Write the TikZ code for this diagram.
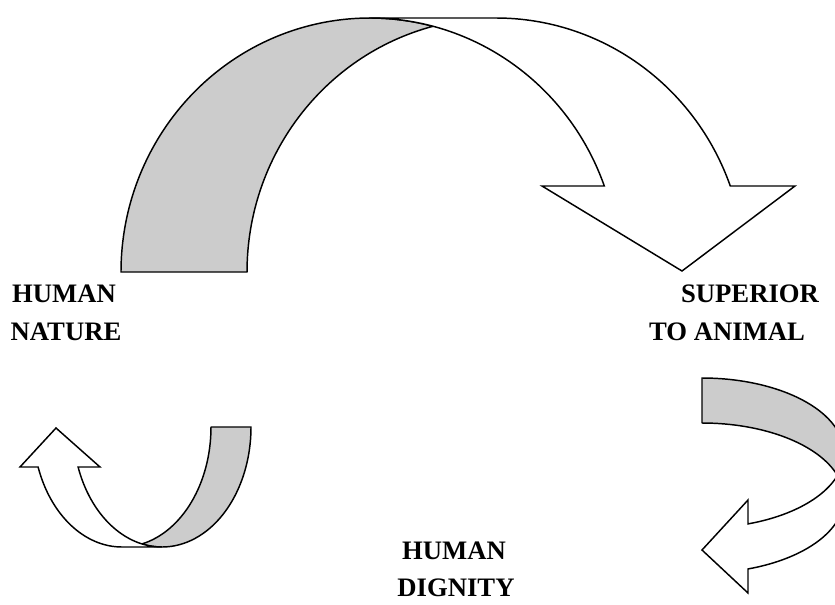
\documentclass[tikz,border=0pt]{standalone}
\usepackage{fontspec}
\setmainfont{Liberation Serif}
\begin{document}
\begin{tikzpicture}[x=0.75pt,y=0.75pt,
  back/.style={draw=black,line width=1.1pt,fill=black!20,line join=round},
  front/.style={draw=black,line width=1.1pt,fill=white,line join=miter},
  lbl/.style={font=\fontsize{20}{22}\selectfont\bfseries,inner sep=0pt,anchor=center}]
\useasboundingbox (0,0) rectangle (835,-604);
\begin{scope}
\clip (0,0) rectangle (835,-604);
% ---- top curved-down arrow (ellipses A centre (370,-272), B centre (496,-272))
\draw[back] (121,-272) arc[start angle=180,end angle=75.34,x radius=249,y radius=254]
  arc[start angle=104.66,end angle=180,x radius=249,y radius=254] -- cycle;
\draw[front] (370,-18) -- (496,-18)
  arc[start angle=90,end angle=19.79,x radius=249,y radius=254]
  -- (795,-186) -- (682,-271) -- (542,-186) -- (604.3,-186)
  arc[start angle=19.79,end angle=90,x radius=249,y radius=254] -- cycle;
% ---- bottom-right curved arrow (ellipses C centre (702,-453), D centre (702,-498))
\draw[back] (702,-378) arc[start angle=90,end angle=-17.46,x radius=142,y radius=75]
  arc[start angle=17.46,end angle=90,x radius=142,y radius=75] -- cycle;
\draw[front] (844,-453) -- (844,-498)
  arc[start angle=0,end angle=-71.1,x radius=142,y radius=75]
  -- (748,-593) -- (702,-550) -- (748,-500) -- (748,-523.9)
  arc[start angle=-71.1,end angle=0,x radius=142,y radius=75] -- cycle;
% ---- bottom-left curved-up arrow (ellipses E centre (122,-427), F centre (162,-427))
\draw[back] (251,-427) arc[start angle=0,end angle=-102.99,x radius=89,y radius=120]
  arc[start angle=-77.01,end angle=0,x radius=89,y radius=120] -- cycle;
\draw[front] (122,-547) arc[start angle=-90,end angle=-160.53,x radius=89,y radius=120]
  -- (20,-467) -- (56,-428) -- (100,-467) -- (78.1,-467)
  arc[start angle=-160.53,end angle=-90,x radius=89,y radius=120] -- cycle;
\end{scope}
% ---- labels
\node[lbl] (hn1) at (64,-294) {HUMAN};
\node[lbl] (hn2) at (66,-332) {NATURE};
\node[lbl] (sa1) at (750,-294) {SUPERIOR};
\node[lbl] (sa2) at (727,-332) {TO ANIMAL};
\node[lbl] (hd1) at (454,-551) {HUMAN};
\node[lbl] (hd2) at (456,-588) {DIGNITY};
\end{tikzpicture}
\end{document}
